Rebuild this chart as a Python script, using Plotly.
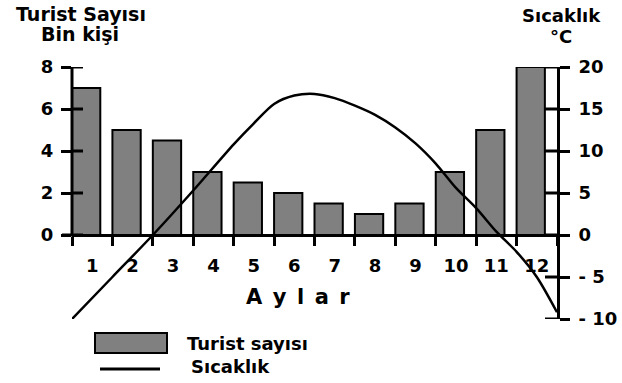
import plotly.graph_objects as go

# data
months = list(range(1, 13))
month_labels = [str(m) for m in months]
tourists = [7, 5, 4.5, 3, 2.5, 2, 1.5, 1, 1.5, 3, 5, 8]  # bin kişi

temp_x = [0.5, 1.5, 2.5, 3.5, 4.5, 5.0, 5.5, 6.0, 6.5, 7.0, 7.5, 8.0, 8.5,
          9.0, 9.5, 10.0, 10.5, 11.0, 11.5, 12.0, 12.5]
temp_c = [-10, -5, 0, 5.3, 10.8, 13.3, 15.6, 16.6, 16.8, 16.3, 15.4, 14.3, 12.8,
          10.9, 8.5, 5.6, 3.2, 0.4, -2.0, -5.0, -9.2]

left_ticks = [0, 2, 4, 6, 8]
right_ticks = [-10, -5, 0, 5, 10, 15, 20]
right_labels = ["- 10", "- 5", "0", "5", "10", "15", "20"]

FONT = "DejaVu Sans"
W_PX, H_PX = 622, 383
L, R, T, B = 72, 557, 67, 319


def px(x):
    return (x - L) / (R - L)


def py(y):
    return (B - y) / (B - T)


fig = go.Figure()
fig.add_trace(go.Bar(
    x=months, y=tourists, width=0.7, offset=-0.5,
    marker=dict(color="#808080", line=dict(color="black", width=2)),
    yaxis="y", showlegend=False,
))
fig.add_trace(go.Scatter(
    x=temp_x, y=temp_c, mode="lines", line=dict(color="black", width=2.5, shape="spline", smoothing=0.8),
    yaxis="y2", showlegend=False,
))

tick_font = dict(family=FONT, size=18, color="black", weight="bold")

fig.update_layout(
    width=W_PX, height=H_PX,
    margin=dict(l=L, r=W_PX - R, t=T, b=H_PX - B),
    plot_bgcolor="white", paper_bgcolor="white",
    xaxis=dict(
        range=[0.5, 12.5], anchor="free", position=4 / 12, automargin=False,
        tickvals=months, ticktext=month_labels, ticks="",
        ticklabelstandoff=13,
        showline=True, linecolor="black", linewidth=3,
        showgrid=False, zeroline=False, tickfont=tick_font,
        minor=dict(tickvals=[m - 0.5 for m in months] + [12.5], ticks="outside",
                   ticklen=9, tickwidth=3, tickcolor="black"),
    ),
    yaxis=dict(
        range=[-4, 8], tickvals=left_ticks, ticks="outside", ticklen=10, tickwidth=3,
        tickcolor="black", showline=False, showgrid=False, zeroline=False,
        tickfont=tick_font, ticklabelstandoff=4, automargin=False,
    ),
    yaxis2=dict(
        range=[-10, 20], overlaying="y", side="right", automargin=False,
        tickvals=right_ticks, ticktext=right_labels, ticks="outside", ticklen=10,
        tickwidth=3, tickcolor="black", showline=True, linecolor="black", linewidth=3,
        showgrid=False, zeroline=False, tickfont=tick_font, ticklabelstandoff=5,
    ),
)

# left axis line only spans 0..8
fig.add_shape(type="line", xref="paper", yref="y", x0=0, x1=0, y0=0, y1=8,
              line=dict(color="black", width=3))
# x axis line runs on a little past the left axis
fig.add_shape(type="line", xref="paper", yref="y", x0=px(L - 10), x1=0, y0=0, y1=0,
              line=dict(color="black", width=3))
# inner halves of crossing ticks
for v in left_ticks:
    fig.add_shape(type="line", xref="paper", yref="y", x0=0, x1=px(L + 11), y0=v, y1=v,
                  line=dict(color="black", width=3))
for v in right_ticks:
    fig.add_shape(type="line", xref="paper", yref="y2", x0=px(R - 12), x1=1, y0=v, y1=v,
                  line=dict(color="black", width=3))

# legend drawn by hand
fig.add_shape(type="rect", xref="paper", yref="paper", x0=px(95), x1=px(167), y0=py(333), y1=py(353),
              fillcolor="#808080", line=dict(color="black", width=2))
fig.add_shape(type="line", xref="paper", yref="paper", x0=px(100), x1=px(160), y0=py(369), y1=py(369),
              line=dict(color="black", width=3))


def label(text, x, y, size=18, anchor="center"):
    fig.add_annotation(text=text, xref="paper", yref="paper", x=px(x), y=py(y),
                       xanchor=anchor, yanchor="middle", showarrow=False,
                       font=dict(family=FONT, size=size, color="black", weight="bold"))


label("Turist Sayısı", 81, 14, size=19)
label("Bin kişi", 80, 34, size=19)
label("Sıcaklık", 561, 15)
label("°C", 561, 36)
label("A\u2002y\u2002l\u2002a\u2002r", 298, 297, size=21)
label("Turist sayısı", 185, 343, anchor="left")
label("Sıcaklık", 189, 366, anchor="left")

# page body has a default 8px margin; drop it so the figure sits at 0,0
fig.write_html("out.html", config={"displayModeBar": False},
               post_script="document.body.style.margin='0';")
